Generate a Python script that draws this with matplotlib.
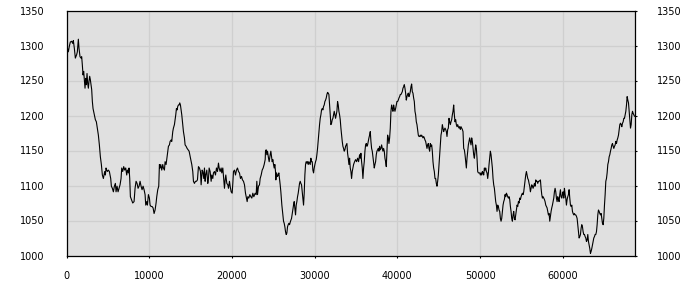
import matplotlib
matplotlib.use("Agg")
import matplotlib.pyplot as plt

# position along the series and the value read at that position
x_pos = [
    0, 222, 343, 464, 625, 746, 827, 948, 1069, 1230, 1311, 1432, 1513, 1634, 1755, 1835,
    1916, 1997, 2077, 2158, 2239, 2319, 2400, 2481, 2561, 2642, 2723, 2803, 2884, 2965,
    3045, 3126, 3207, 3368, 3489, 3610, 3731, 3852, 3973, 4094, 4215, 4336, 4457, 4538,
    4618, 4699, 4780, 4860, 4941, 5062, 5183, 5264, 5344, 5425, 5546, 5667, 5788, 5909,
    5990, 6111, 6232, 6353, 6474, 6595, 6675, 6796, 6917, 7038, 7159, 7280, 7361, 7482,
    7563, 7643, 7724, 7845, 8006, 8168, 8289, 8410, 8531, 8652, 8773, 8894, 9015, 9136,
    9257, 9378, 9499, 9579, 9700, 9781, 9902, 10023, 10104, 10225, 10346, 10467, 10588,
    10709, 10830, 10910, 11031, 11152,
    11233, 11314, 11394, 11515, 11636, 11717, 11838, 11919, 12040, 12161, 12241, 12322,
    12443, 12524, 12645, 12725, 12846, 12927, 13048, 13129, 13209, 13290, 13371, 13451,
    13532, 13613, 13693, 13774, 13855, 13935, 14016, 14137, 14258, 14339, 14460, 14581,
    14702, 14823, 14903, 15024, 15145, 15266, 15347, 15468, 15589, 15710, 15831, 15952,
    16073, 16194, 16275, 16396, 16476, 16597, 16678, 16759, 16839, 16960, 17081, 17162,
    17243, 17364, 17485, 17565, 17686, 17767, 17888, 18009, 18130, 18251, 18372, 18453,
    18574, 18695, 18775, 18896, 18977, 19098, 19179, 19259, 19380, 19501, 19582, 19703,
    19784, 19905, 20026, 20106, 20187, 20308, 20429, 20550, 20671, 20792, 20913, 21034,
    21155, 21276, 21397, 21518, 21639, 21760, 21841, 21921, 22042, 22163, 22284, 22405,
    22526, 22647,
    22809, 22930, 23010, 23091, 23212, 23333, 23414, 23535, 23656, 23777, 23898, 24019,
    24059, 24140, 24220, 24301, 24422, 24503, 24624, 24704, 24785, 24866, 24946, 25027,
    25108, 25188, 25269, 25309, 25390, 25511, 25592, 25672, 25753, 25834, 25914, 26035,
    26156, 26237, 26318, 26398, 26479, 26560, 26640, 26721, 26802, 26882, 26963, 27084,
    27205, 27326, 27447, 27528, 27608, 27689, 27770, 27850, 27931, 28012, 28092, 28173,
    28254, 28334, 28415, 28496, 28576, 28657, 28738, 28818, 28899, 28980, 29060, 29141,
    29222, 29302, 29383, 29464, 29544, 29625, 29706, 29786, 29867, 29948, 30028, 30109,
    30190, 30270, 30351, 30432, 30512, 30593, 30674, 30754, 30835, 30916, 30996, 31077,
    31158, 31238, 31319, 31400, 31480, 31561, 31642, 31722, 31803, 31884, 31964, 32045,
    32126, 32206, 32287, 32368, 32448, 32529, 32610, 32690, 32771, 32852, 32932, 33013,
    33094, 33174, 33255, 33336, 33416, 33497, 33578, 33658, 33739, 33820, 33900, 33981,
    34062, 34142, 34223,
    34304, 34384, 34465, 34546, 34626, 34707, 34828, 34949, 35070, 35191, 35312, 35433,
    35514, 35594, 35675, 35756, 35836, 35917, 35998, 36078, 36159, 36240, 36320, 36401,
    36482, 36562, 36643, 36724, 36804, 36885, 36966, 37046, 37127, 37208, 37288, 37369,
    37450, 37530, 37611, 37692, 37772, 37853, 37934, 38014, 38095, 38176, 38256, 38337,
    38418, 38498, 38579, 38660, 38740, 38821, 38902, 38982, 39063, 39144, 39224, 39305,
    39386, 39466, 39547, 39628, 39708, 39789, 39870, 39950, 40031, 40112, 40192, 40273,
    40354, 40434, 40515, 40596, 40676, 40757, 40838, 40918, 40999, 41080, 41160, 41241,
    41322, 41402, 41483, 41564, 41644, 41725, 41806, 41886, 41967, 42048, 42128, 42209,
    42290, 42370, 42451, 42532, 42612, 42693, 42774, 42854, 42935, 43016, 43096, 43177,
    43258, 43338, 43419, 43500, 43580, 43661, 43742, 43822, 43903, 43984, 44064, 44145,
    44226, 44306, 44387, 44468, 44548, 44629, 44710, 44790, 44871, 44952, 45032, 45113,
    45194, 45274, 45355, 45436, 45516, 45597, 45678,
    45758, 45839, 45920, 46000, 46081, 46162, 46242, 46323, 46404, 46484, 46565, 46646,
    46726, 46807, 46888, 46968, 47049, 47130, 47210, 47291, 47372, 47452, 47533, 47614,
    47694, 47775, 47856, 47936, 48017, 48098, 48178, 48259, 48340, 48420, 48501, 48582,
    48662, 48743, 48824, 48904, 48985, 49066, 49146, 49227, 49308, 49388, 49469, 49550,
    49630, 49711, 49792, 49872, 49953, 50034, 50114, 50195, 50276, 50356, 50437, 50518,
    50598, 50679, 50760, 50840, 50921, 51002, 51082, 51163, 51244, 51324, 51405, 51486,
    51566, 51647, 51728, 51808, 51889, 51970, 52050, 52131, 52212, 52292, 52373, 52454,
    52534, 52615, 52696, 52776, 52857, 52938, 53018, 53099, 53180, 53260, 53341, 53422,
    53502, 53583, 53664, 53744, 53825, 53906, 53986, 54067, 54148, 54228, 54309, 54390,
    54470, 54551, 54632, 54712, 54793, 54874, 54954, 55035, 55116, 55196, 55277, 55358,
    55438, 55519, 55600, 55680, 55761, 55842, 55922, 56003, 56084, 56164, 56245, 56326,
    56406, 56487, 56568, 56648, 56729, 56810, 56890, 56971, 57052, 57132,
    57294, 57374, 57455, 57536, 57616, 57697, 57778, 57858, 57939, 58020, 58100, 58181,
    58262, 58342, 58423, 58504, 58584, 58665, 58746, 58826, 58907, 58988, 59068, 59149,
    59230, 59310, 59391, 59472, 59552, 59633, 59714, 59794, 59875, 59956, 60036, 60117,
    60198, 60278, 60359, 60440, 60520, 60601, 60682, 60762, 60843, 60924, 61004, 61085,
    61166, 61246, 61327, 61408, 61488, 61569, 61650, 61730, 61811, 61892, 61972, 62053,
    62134, 62214, 62295, 62376, 62456, 62537, 62618, 62698, 62779, 62860, 62940, 63021,
    63102, 63182, 63263, 63344, 63424, 63505, 63586, 63666, 63747, 63828, 63908, 63989,
    64070, 64150, 64231, 64312, 64392, 64473, 64554, 64634, 64715, 64796, 64876, 64957,
    65038, 65118, 65199, 65280, 65360, 65441, 65522, 65602, 65683, 65764, 65844, 65925,
    66006, 66086, 66167, 66248, 66328, 66409, 66490, 66570, 66651, 66732, 66812, 66893,
    66974, 67054, 67135, 67216, 67296, 67377, 67458, 67538, 67619, 67700, 67780, 67861,
    67942, 68022, 68103, 68184, 68264, 68345, 68426, 68506, 68587, 68668,
]

values = [
    1302, 1291, 1299, 1305, 1306, 1303, 1307, 1296, 1282, 1287, 1291, 1309, 1296, 1284, 1282, 1284,
    1272, 1258, 1263, 1251, 1239, 1253, 1244, 1260, 1246, 1239, 1249, 1256, 1251, 1244,
    1237, 1220, 1210, 1201, 1194, 1191, 1182, 1172, 1158, 1141, 1130, 1115, 1110, 1115,
    1120, 1115, 1125, 1122, 1120, 1122, 1120, 1115, 1110, 1099, 1096, 1091, 1099, 1103,
    1091, 1099, 1091, 1096, 1101, 1110, 1125, 1120, 1127, 1122, 1125, 1115, 1122, 1118,
    1125, 1110, 1084, 1080, 1075, 1077, 1096, 1106, 1103, 1096, 1099, 1106, 1099, 1094,
    1099, 1094, 1087, 1072, 1077, 1072, 1087, 1082, 1072, 1070, 1070, 1068, 1060,
    1065, 1075, 1084, 1094, 1099,
    1130, 1125, 1130, 1122, 1130, 1125, 1122, 1134, 1130, 1141, 1149, 1156,
    1158, 1163, 1165, 1163, 1177, 1182, 1187, 1194, 1201, 1210, 1208, 1213,
    1215, 1215, 1218, 1215, 1208, 1201, 1191, 1177, 1168, 1158, 1156, 1153,
    1151, 1149, 1144, 1137, 1130, 1120, 1106, 1103, 1106, 1106, 1108, 1127,
    1125, 1120, 1101, 1122, 1120, 1110, 1125, 1106, 1115, 1122, 1103, 1110,
    1125, 1120, 1106, 1115, 1110, 1118, 1120, 1115, 1125, 1120, 1132, 1125,
    1120, 1125, 1118, 1125, 1113, 1096, 1108, 1115, 1103, 1101, 1096, 1106,
    1099, 1091, 1089, 1103, 1120, 1122, 1115, 1122, 1125, 1120, 1118, 1110,
    1113, 1108, 1106, 1101, 1089, 1082, 1077, 1084, 1082, 1087, 1084, 1082,
    1089, 1084,
    1089, 1087, 1106, 1087, 1099, 1101, 1110, 1115, 1122, 1125, 1130, 1137,
    1149, 1151, 1144, 1149, 1139, 1134, 1144, 1149, 1141, 1134, 1137, 1130,
    1125, 1130, 1120, 1108, 1118, 1113, 1115, 1118, 1110, 1101, 1091, 1072,
    1058, 1049, 1046, 1041, 1034, 1030, 1032, 1041, 1044, 1046, 1044, 1049,
    1053, 1063, 1072, 1077, 1068, 1058, 1072, 1077, 1084, 1089, 1096, 1103,
    1106, 1103, 1101, 1091, 1082, 1072, 1089, 1115, 1130, 1134, 1132, 1134,
    1130, 1134, 1132, 1130, 1139, 1134, 1134, 1122, 1118, 1125, 1130, 1134,
    1137, 1144, 1153, 1165, 1177, 1187, 1196, 1201, 1208, 1210, 1208, 1213,
    1215, 1220, 1222, 1225, 1230, 1233, 1232, 1230, 1215, 1201, 1187, 1189,
    1194, 1196, 1201, 1206, 1201, 1196, 1201, 1206, 1220, 1215, 1206, 1201,
    1194, 1182, 1172, 1163, 1156, 1153, 1149, 1151, 1156, 1158, 1160, 1146,
    1139, 1130, 1139,
    1125, 1120, 1110, 1120, 1125, 1130, 1134, 1137, 1134, 1139, 1134, 1144,
    1139, 1146, 1134, 1125, 1110, 1125, 1134, 1149, 1158, 1160, 1156, 1158,
    1163, 1168, 1172, 1177, 1163, 1153, 1149, 1141, 1134, 1125, 1130, 1134,
    1144, 1149, 1151, 1153, 1149, 1156, 1151, 1153, 1158, 1153, 1149, 1153,
    1149, 1139, 1134, 1127, 1149, 1172, 1168, 1160, 1168, 1182, 1206, 1215,
    1210, 1206, 1215, 1210, 1206, 1210, 1215, 1220, 1220, 1222, 1225, 1227,
    1230, 1230, 1232, 1234, 1239, 1241, 1244, 1239, 1232, 1222, 1227, 1230,
    1232, 1227, 1230, 1234, 1241, 1245, 1234, 1232, 1225, 1220, 1206, 1201,
    1191, 1187, 1180, 1172, 1170, 1170, 1172, 1170, 1172, 1170, 1168, 1170,
    1168, 1165, 1163, 1158, 1153, 1158, 1160, 1153, 1149, 1160, 1156, 1158,
    1149, 1134, 1125, 1120, 1110, 1110, 1103, 1099, 1106, 1115, 1130, 1144,
    1158, 1172, 1177, 1187, 1182, 1177, 1180,
    1182, 1180, 1177, 1170, 1180, 1182, 1196, 1191, 1187, 1191, 1194, 1201,
    1206, 1215, 1201, 1191, 1194, 1187, 1184, 1187, 1184, 1182, 1184, 1180,
    1184, 1182, 1180, 1177, 1153, 1151, 1144, 1134, 1125, 1139, 1149, 1158,
    1163, 1168, 1163, 1158, 1168, 1163, 1153, 1144, 1139, 1149, 1158, 1153,
    1139, 1120, 1118, 1118, 1118, 1115, 1118, 1115, 1120, 1118, 1115, 1125,
    1122, 1125, 1120, 1118, 1110, 1118, 1130, 1139, 1149, 1144, 1134, 1125,
    1110, 1101, 1096, 1087, 1077, 1072, 1063, 1072, 1070, 1065, 1063, 1053,
    1049, 1053, 1063, 1072, 1077, 1080, 1087, 1084, 1089, 1087, 1084, 1082,
    1084, 1080, 1070, 1063, 1053, 1049, 1058, 1063, 1053, 1051, 1058, 1065,
    1072, 1070, 1077, 1075, 1082, 1080, 1084, 1087, 1089, 1087, 1091, 1099,
    1108, 1115, 1120, 1115, 1110, 1108, 1103, 1099, 1091, 1096, 1101, 1099,
    1096, 1099, 1103, 1099, 1108, 1106, 1106, 1103, 1106, 1106,
    1108, 1096, 1087, 1082, 1084, 1082, 1080, 1077, 1072, 1070, 1068, 1063,
    1058, 1060, 1049, 1056, 1063, 1068, 1072, 1077, 1082, 1091, 1096, 1091,
    1082, 1077, 1084, 1080, 1077, 1087, 1094, 1084, 1082, 1087, 1091, 1082,
    1096, 1087, 1082, 1072, 1080, 1084, 1087, 1094, 1082, 1072, 1070, 1072,
    1063, 1060, 1058, 1060, 1058, 1058, 1056, 1053, 1044, 1034, 1025, 1027,
    1030, 1039, 1044, 1041, 1034, 1030, 1030, 1027, 1025, 1020, 1022, 1030,
    1020, 1015, 1010, 1003, 1006, 1010, 1015, 1020, 1025, 1027, 1030, 1030,
    1034, 1044, 1058, 1065, 1063, 1060, 1058, 1060, 1053, 1046, 1044, 1053,
    1072, 1087, 1106, 1110, 1118, 1130, 1134, 1141, 1144, 1149, 1153, 1158,
    1160, 1156, 1153, 1156, 1158, 1163, 1160, 1165, 1168, 1172, 1180, 1187,
    1189, 1187, 1184, 1189, 1191, 1196, 1196, 1201, 1206, 1215, 1227, 1222,
    1218, 1206, 1194, 1182, 1187, 1201, 1206, 1203, 1201, 1199,
]

x_ticks = [0, 10000, 20000, 30000, 40000, 50000, 60000]
y_ticks = [1000, 1050, 1100, 1150, 1200, 1250, 1300, 1350]

fig = plt.figure(figsize=(7, 3), dpi=100)
ax = fig.add_axes([66.5 / 700, 44.5 / 300, 568 / 700, 245 / 300])
ax.set_facecolor("#e0e0e0")

ax.plot(x_pos, values, color="black", linewidth=0.8)

ax.set_xlim(0, x_pos[-1])
ax.set_ylim(1000, 1350)
ax.set_xticks(x_ticks)
ax.set_yticks(y_ticks)
ax.set_xticklabels([str(t) for t in x_ticks])
ax.set_yticklabels([str(t) for t in y_ticks])

ax.grid(True, color="#cfcfcf", linewidth=0.9)
ax.set_axisbelow(True)
for spine in ax.spines.values():
    spine.set_color("black")
    spine.set_linewidth(0.9)

ax.tick_params(axis="y", left=False, right=True, labelleft=True, labelright=True,
               length=1.5, pad=14.5, labelsize=7, direction="out")
ax.tick_params(axis="x", bottom=True, length=1.5, pad=9.5, labelsize=7, direction="out")

fig.savefig("out.png", dpi=100)
